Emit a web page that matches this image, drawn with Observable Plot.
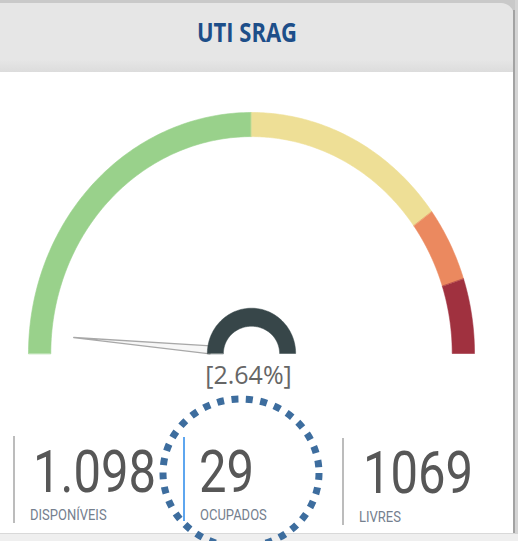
<!DOCTYPE html>
<html><head><meta charset="utf-8">
<script src="https://cdn.jsdelivr.net/npm/d3@7"></script>
<script src="https://cdn.jsdelivr.net/npm/@observablehq/plot@0.6"></script>
<style>
html,body{margin:0;padding:0;background:#fff;}
#card{position:relative;width:518px;height:541px;overflow:hidden;background:#fff;}
.abs{position:absolute;}
</style></head><body>
<div id="card">
  <div class="abs" style="left:0;top:0;width:518px;height:14px;background:#c9c9c9"></div>
  <div class="abs" style="left:0;top:3px;width:514px;height:69px;background:linear-gradient(to bottom,#e6e6e6 0%,#e6e6e6 82%,#dcdcdc 100%);border-top-right-radius:13px"></div>
  <div class="abs" style="left:513px;top:10px;width:2px;height:524px;background:#a3a3a3"></div>
  <div class="abs" style="left:515px;top:0;width:3px;height:541px;background:#d4d4d4"></div>
  <div class="abs" style="left:0;top:533px;width:515px;height:1px;background:#d9d9d9"></div>
  <div class="abs" style="left:0;top:534px;width:518px;height:7px;background:#efefef"></div>
  <div id="gauge" class="abs" style="left:0;top:72px"></div>
</div>
<script>
// ---- data ----
const title = "UTI SRAG";
const bandStops = [0, 0.5, 0.8, 0.9, 1.0];
const bandColors = ["#99d18b", "#eedf96", "#eb895f", "#a0313f"];
const kpiLabels = ["DISPONÍVEIS", "OCUPADOS", "LIVRES"];
const kpiValues = [1098, 29, 1069];
const kpiTexts = ["1.098", "29", "1069"];
const gaugeValue = kpiValues[1] / kpiValues[0]; // 2.64%

// ---- geometry helpers (derived from the data) ----
const N = 90;
function ring(t0, t1, rxO, ryO, rxI, ryI, key) {
  const pts = [];
  for (let i = 0; i <= N; i++) {
    const t = t0 + (t1 - t0) * i / N, a = Math.PI * t;
    pts.push({x: -rxO * Math.cos(a), y: ryO * Math.sin(a), k: key});
  }
  for (let i = N; i >= 0; i--) {
    const t = t0 + (t1 - t0) * i / N, a = Math.PI * t;
    pts.push({x: -rxI * Math.cos(a), y: ryI * Math.sin(a), k: key});
  }
  return pts;
}
const PXX = 223, PXY = 241; // pixels per unit
function needle(v, r0, len, halfW) {
  const a = Math.PI * v;
  const ux = -Math.cos(a), uy = Math.sin(a);
  const dx = ux * PXX, dy = uy * PXY;
  const n = Math.hypot(dx, dy);
  const px = -dy / n * halfW, py = dx / n * halfW;
  const bx = ux * r0, by = uy * r0;
  return [
    {x: bx + px / PXX, y: by + py / PXY},
    {x: ux * len, y: uy * len},
    {x: bx - px / PXX, y: by - py / PXY}
  ];
}

const marks = [];
bandColors.forEach((c, i) => {
  marks.push(Plot.line(ring(bandStops[i], bandStops[i + 1], 1, 1, 0.9, 0.9, i),
    {x: "x", y: "y", fill: c, stroke: c, strokeWidth: 0.6, curve: "linear-closed"}));
});
marks.push(Plot.line(needle(gaugeValue, 0.185, 0.80, 4),
  {x: "x", y: "y", fill: "#f7f7f7", stroke: "#a8a8a8", strokeWidth: 1.3, curve: "linear-closed"}));
marks.push(Plot.line(ring(0, 1, 0.198, 0.188, 0.126, 0.113, "hub"),
  {x: "x", y: "y", fill: "#374649", stroke: "#374649", strokeWidth: 0.5, curve: "linear-closed"}));
marks.push(Plot.text([gaugeValue], {
  x: () => 0, y: () => 0, text: d => `[${(d * 100).toFixed(2)}%]`,
  dx: -3, dy: 30, lineAnchor: "bottom", fontSize: 25, fill: "#666666",
  fontFamily: "'Open Sans', sans-serif"
}));

const chart = Plot.plot({
  width: 518, height: 330,
  marginLeft: 28, marginRight: 44, marginTop: 40, marginBottom: 49,
  x: {domain: [-1, 1], axis: null},
  y: {domain: [0, 1], axis: null},
  style: {background: "transparent", overflow: "visible"},
  marks
});
document.getElementById("gauge").appendChild(chart);

// ---- overlay: title, KPIs, separators, annotation ----
const ov = d3.select("#card").append("svg")
  .attr("width", 518).attr("height", 541)
  .style("position", "absolute").style("left", 0).style("top", 0);

ov.append("text")
  .attr("transform", "translate(247,42) scale(1,1.24)")
  .attr("text-anchor", "middle")
  .attr("font-family", "'Open Sans', sans-serif").attr("font-weight", 700)
  .attr("font-size", 22).attr("fill", "#1d4e89").text(title);

const seps = [
  {x: 14, y1: 436, y2: 523, c: "#bcbcbc"},
  {x: 184, y1: 437, y2: 521, c: "#5ea6ef"},
  {x: 343, y1: 438, y2: 525, c: "#bcbcbc"}
];
ov.selectAll("line.sep").data(seps).join("line").attr("class", "sep")
  .attr("x1", d => d.x).attr("x2", d => d.x).attr("y1", d => d.y1).attr("y2", d => d.y2)
  .attr("stroke", d => d.c).attr("stroke-width", 2);

const colX = [33, 199, 363], numBase = [492, 492, 493], labBase = [520, 520, 522], labX = [30, 200, 359];
kpiTexts.forEach((t, i) => {
  ov.append("text")
    .attr("transform", `translate(${colX[i]},${numBase[i]}) scale(1,1.22)`)
    .attr("font-family", "Roboto, sans-serif").attr("font-size", 49).attr("font-weight", 400)
    .attr("fill", "#575757").text(t);
  ov.append("text")
    .attr("transform", `translate(${labX[i]},${labBase[i]}) scale(1,1.1)`)
    .attr("font-family", "Roboto, sans-serif").attr("font-size", 13)
    .attr("fill", "#75808e").text(kpiLabels[i]);
});

ov.append("ellipse")
  .attr("cx", 241).attr("cy", 473).attr("rx", 78).attr("ry", 74)
  .attr("fill", "none").attr("stroke", "#3d6d9e").attr("stroke-width", 7)
  .attr("stroke-dasharray", "7 7.5");
</script>
</body></html>
